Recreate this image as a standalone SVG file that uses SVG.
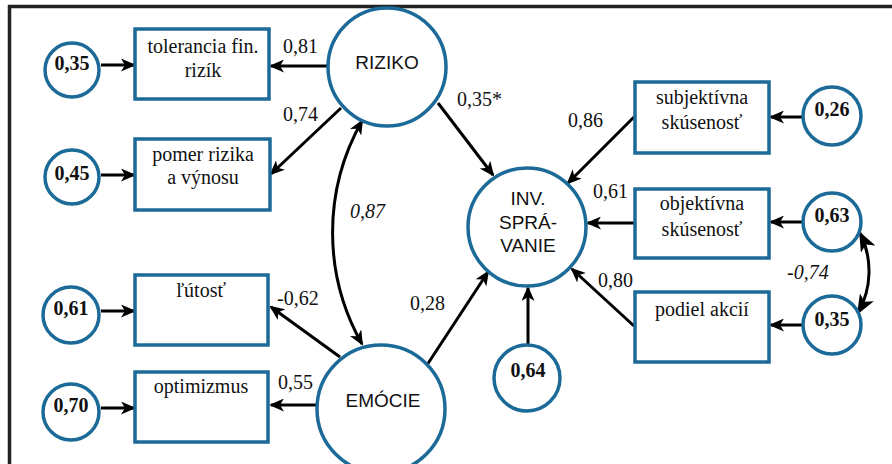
<svg xmlns="http://www.w3.org/2000/svg" width="892" height="464" viewBox="0 0 892 464">
<defs>
<style>
.bx{fill:#fff;stroke:#1b6a98;stroke-width:3.5}
.ci{fill:#fff;stroke:#1b6a98;stroke-width:3.5}
.ln{fill:none;stroke:#000;stroke-width:3}
.sr{font-family:"Liberation Serif","Times New Roman",serif;font-size:20px;fill:#111}
.b{font-weight:bold}
.it{font-style:italic}
.ss{font-family:"Liberation Sans",Arial,sans-serif;font-size:19px;fill:#111}
.m{text-anchor:middle}
</style>
<marker id="ah" markerUnits="userSpaceOnUse" markerWidth="15" markerHeight="13" refX="13" refY="6.5" orient="auto-start-reverse" viewBox="0 0 15 13">
<path d="M0,0 L15,6.5 L0,13 L4,6.5 z" fill="#000"/>
</marker>
<marker id="ahb" markerUnits="userSpaceOnUse" markerWidth="20" markerHeight="16" refX="18" refY="8" orient="auto-start-reverse" viewBox="0 0 20 16">
<path d="M0,0 L20,8 L0,16 L5,8 z" fill="#000"/>
</marker>
</defs>
<rect x="0" y="0" width="892" height="464" fill="#fff"/>
<g id="frame">
<line x1="8" y1="6.5" x2="892" y2="6.5" stroke="#222" stroke-width="3.5"/>
<line x1="9.5" y1="5" x2="9.5" y2="464" stroke="#222" stroke-width="3.5"/>
</g>
<g id="connectors">
<line class="ln" x1="101" y1="65" x2="134" y2="65" marker-end="url(#ah)"/>
<line class="ln" x1="101" y1="175" x2="134" y2="175" marker-end="url(#ah)"/>
<line class="ln" x1="101" y1="311" x2="134" y2="311" marker-end="url(#ah)"/>
<line class="ln" x1="101" y1="408" x2="134" y2="408" marker-end="url(#ah)"/>
<line class="ln" x1="328" y1="66" x2="271" y2="66" marker-end="url(#ah)"/>
<line class="ln" x1="341" y1="108" x2="271" y2="174" marker-end="url(#ah)"/>
<line class="ln" x1="340" y1="357" x2="271" y2="307" marker-end="url(#ah)"/>
<line class="ln" x1="316" y1="405" x2="271" y2="405" marker-end="url(#ah)"/>
<path class="ln" d="M362,121 A226,226 0 0 0 362,344" marker-start="url(#ah)" marker-end="url(#ah)"/>
<line class="ln" x1="438" y1="103" x2="493" y2="175" marker-end="url(#ah)"/>
<line class="ln" x1="427" y1="365" x2="488" y2="272" marker-end="url(#ah)"/>
<line class="ln" x1="528" y1="344" x2="528" y2="288" marker-end="url(#ah)"/>
<line class="ln" x1="634" y1="117" x2="568" y2="183" marker-end="url(#ah)"/>
<line class="ln" x1="634" y1="223" x2="588" y2="223" marker-end="url(#ah)"/>
<line class="ln" x1="634" y1="326" x2="572" y2="269" marker-end="url(#ah)"/>
<line class="ln" x1="802" y1="117" x2="771" y2="117" marker-end="url(#ah)"/>
<line class="ln" x1="802" y1="222" x2="771" y2="222" marker-end="url(#ah)"/>
<line class="ln" x1="802" y1="325" x2="771" y2="325" marker-end="url(#ah)"/>
<path class="ln" d="M860,233 A85,85 0 0 1 858,313" marker-start="url(#ahb)" marker-end="url(#ahb)"/>
</g>
<g id="labels">
<text class="sr" x="283" y="53">0,81</text>
<text class="sr" x="283" y="121">0,74</text>
<text class="sr it" x="350" y="218">0,87</text>
<text class="sr" x="457" y="106">0,35*</text>
<text class="sr" x="277" y="305">-0,62</text>
<text class="sr" x="278" y="389">0,55</text>
<text class="sr" x="410" y="310">0,28</text>
<text class="sr" x="568" y="127">0,86</text>
<text class="sr" x="593" y="198">0,61</text>
<text class="sr" x="598" y="287">0,80</text>
<text class="sr it" x="787" y="279">-0,74</text>
</g>
<g id="n_tolerancia">
<rect class="bx" x="135" y="29" width="134" height="70"/>
<text class="sr m" x="203" y="53">tolerancia fin.</text>
<text class="sr m" x="203" y="77">rizík</text>
</g>
<g id="n_pomer">
<rect class="bx" x="135" y="139" width="135" height="71"/>
<text class="sr m" x="203" y="161">pomer rizika</text>
<text class="sr m" x="203" y="184">a výnosu</text>
</g>
<g id="n_lutost">
<rect class="bx" x="135" y="275" width="133" height="70"/>
<text class="sr m" x="201" y="297">ľútosť</text>
</g>
<g id="n_optimizmus">
<rect class="bx" x="135" y="372" width="133" height="70"/>
<text class="sr m" x="201" y="393">optimizmus</text>
</g>
<g id="n_subj">
<rect class="bx" x="635" y="82" width="134" height="71"/>
<text class="sr m" x="702" y="104">subjektívna</text>
<text class="sr m" x="702" y="129">skúsenosť</text>
</g>
<g id="n_obj">
<rect class="bx" x="635" y="189" width="134" height="69"/>
<text class="sr m" x="702" y="210">objektívna</text>
<text class="sr m" x="702" y="236">skúsenosť</text>
</g>
<g id="n_podiel">
<rect class="bx" x="635" y="292" width="134" height="70"/>
<text class="sr m" x="702" y="316">podiel akcií</text>
</g>
<g id="n_riziko">
<circle class="ci" cx="387" cy="67" r="59"/>
<text class="ss m" x="387" y="69">RIZIKO</text>
</g>
<g id="n_emocie">
<circle class="ci" cx="381" cy="409" r="64"/>
<text class="ss m" x="383" y="407">EMÓCIE</text>
</g>
<g id="n_inv">
<circle class="ci" cx="527" cy="227" r="59"/>
<text class="ss m" x="528" y="205">INV.</text>
<text class="ss m" x="528" y="229">SPRÁ-</text>
<text class="ss m" x="528" y="252">VANIE</text>
</g>
<g id="e_035a">
<circle class="ci" cx="72" cy="70" r="27"/>
<text class="sr b m" x="72" y="70">0,35</text>
</g>
<g id="e_045">
<circle class="ci" cx="72" cy="177" r="27"/>
<text class="sr b m" x="72" y="180">0,45</text>
</g>
<g id="e_061">
<circle class="ci" cx="71" cy="315" r="28"/>
<text class="sr b m" x="71" y="315">0,61</text>
</g>
<g id="e_070">
<circle class="ci" cx="71" cy="412" r="28"/>
<text class="sr b m" x="71" y="412">0,70</text>
</g>
<g id="e_064">
<circle class="ci" cx="527" cy="378" r="33"/>
<text class="sr b m" x="528" y="377">0,64</text>
</g>
<g id="e_026">
<circle class="ci" cx="832" cy="116" r="29"/>
<text class="sr b m" x="832" y="116">0,26</text>
</g>
<g id="e_063">
<circle class="ci" cx="832" cy="222" r="29"/>
<text class="sr b m" x="832" y="222">0,63</text>
</g>
<g id="e_035b">
<circle class="ci" cx="832" cy="325" r="29"/>
<text class="sr b m" x="832" y="326">0,35</text>
</g>
</svg>
